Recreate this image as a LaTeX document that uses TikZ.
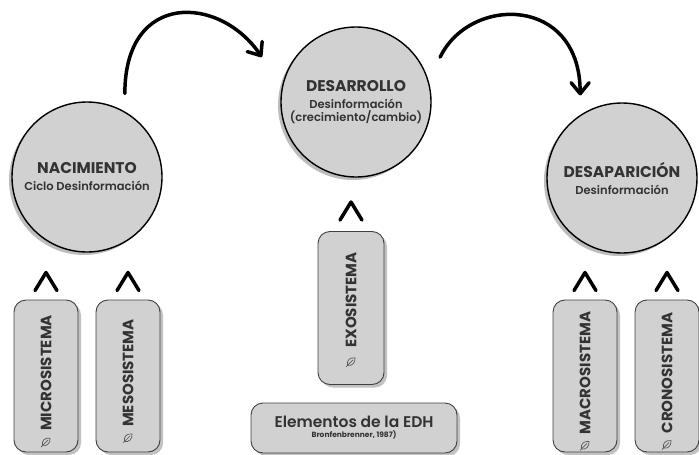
\documentclass[tikz,border=0pt]{standalone}
\usepackage{fontspec}
\setmainfont{Poppins}
\newfontfamily\medfont{Poppins SemiBold}
\usetikzlibrary{arrows.meta,shadows}
\begin{document}
\begin{tikzpicture}[x=1pt, y=-1pt,
    stage/.style={circle, draw=black, line width=1.4pt, fill=black!18, minimum size=150pt, inner sep=0pt, align=center, text=black!80,
        drop shadow={shadow xshift=-3pt, shadow yshift=-3pt, fill=black!26, opacity=1}},
    sysbox/.style={rectangle, rounded corners=12pt, draw=black!75, line width=0.9pt, fill=black!18, minimum width=64pt, minimum height=152pt,
        drop shadow={shadow xshift=3pt, shadow yshift=-3pt, fill=black!24, opacity=1}},
    systext/.style={rotate=90, inner sep=0pt, text=black!80, font=\fontsize{15}{17}\selectfont\bfseries},
    caret/.style={line width=3.5pt, line cap=round, line join=round},
    flow/.style={line width=3.5pt, line cap=round, -{Straight Barb[length=11pt, width=18pt, line cap=round, line join=round]}},
    leaf/.pic={
        \draw[black!65, line width=0.7pt] (-3.5,3.5) .. controls (-4.5,-2) and (-1,-4.5) .. (4,-4) .. controls (4.5,1) and (1,4.5) .. (-3.5,3.5);
        \draw[black!65, line width=0.7pt] (-5,5) -- (2,-2);
    }]
    \useasboundingbox (0,0) rectangle (699,455);
    % etapas
    \node[stage] (nac) at (87,177) {{\fontsize{15.5}{17}\selectfont\bfseries NACIMIENTO}\\[5pt]{\medfont\fontsize{11.5}{13}\selectfont Ciclo Desinformación}};
    \node[stage] (des) at (356,102) {{\fontsize{15.5}{17}\selectfont\bfseries DESARROLLO}\\[5pt]{\medfont\fontsize{11.5}{13}\selectfont Desinformación}\\[1pt]{\medfont\fontsize{11.5}{13}\selectfont (crecimiento/cambio)}};
    \node[stage] (desap) at (622,178) {{\fontsize{15.5}{17}\selectfont\bfseries DESAPARICIÓN}\\[5pt]{\medfont\fontsize{11.5}{13}\selectfont Desinformación}};
    \draw[flow] ([yshift=18pt]nac.60) .. controls +(0,-103) and +(-42,-62) .. ([shift={(-23pt,19pt)}]des.160);
    \draw[flow] ([shift={(13pt,19pt)}]des.20) .. controls +(30,-62) and +(0,-100) .. ([shift={(-4pt,17pt)}]desap.120);
    % sistemas
    \foreach \n/\t/\x in {micro/MICROSISTEMA/46, meso/MESOSISTEMA/128, macro/MACROSISTEMA/585, crono/CRONOSISTEMA/667}
    {
        \node[sysbox] (\n) at (\x,376) {};
        \node[systext] (t\n) at ([yshift=3pt]\n.center) {\t};
        \pic at ([yshift=-11pt]t\n.west) {leaf};
        \draw[caret] ([xshift=-11pt, yshift=9pt]\n.north) -- ++(11,-18) -- ++(11,18);
    }
    \node[sysbox, minimum width=66pt, minimum height=153pt] (exo) at (351,308) {};
    \node[systext] (texo) at ([yshift=8pt]exo.center) {EXOSISTEMA};
    \pic at ([yshift=-14pt]texo.west) {leaf};
    \draw[caret] ([xshift=-11pt, yshift=11pt]exo.north) -- ++(11,-18) -- ++(11,18);
    \node[sysbox, minimum width=206pt, minimum height=50pt, align=center, text=black!80] (edh) at (354,428)
        {{\medfont\fontsize{15.5}{16}\selectfont Elementos de la EDH}\\[-2pt]{\fontsize{7.5}{8}\selectfont\bfseries Bronfenbrenner, 1987)}};
\end{tikzpicture}
\end{document}
